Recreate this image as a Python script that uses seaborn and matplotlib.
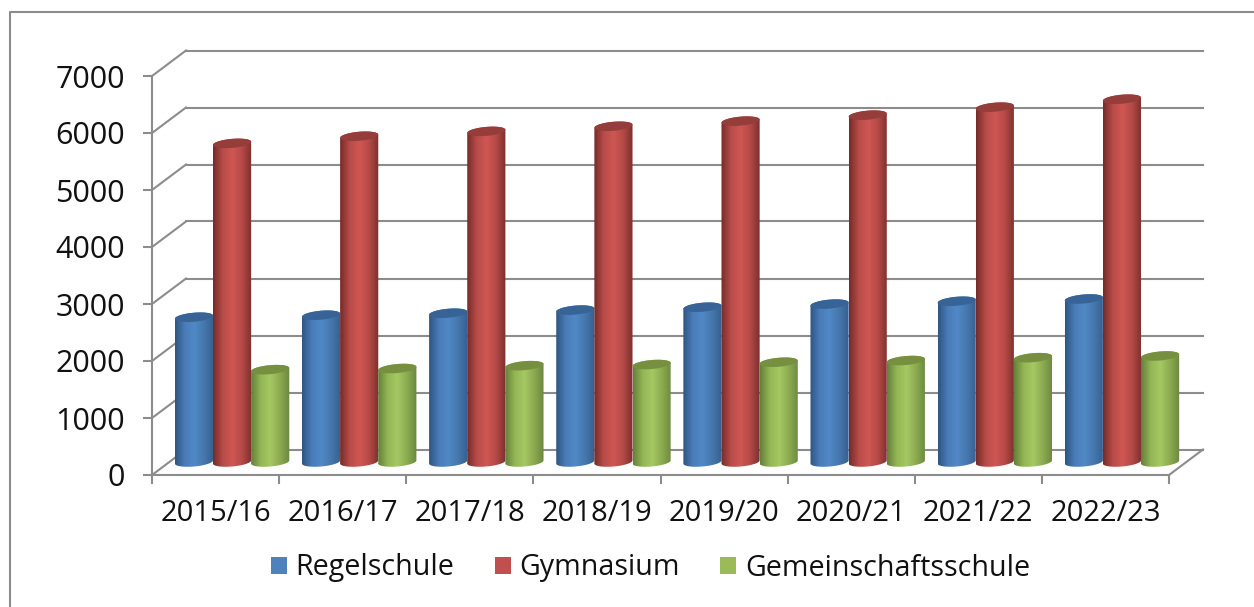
import numpy as np
import pandas as pd
import matplotlib
matplotlib.use('Agg')
import matplotlib.pyplot as plt
from matplotlib.colors import LinearSegmentedColormap
from matplotlib.lines import Line2D
from matplotlib.patches import PathPatch, Patch
from matplotlib.path import Path
import seaborn as sns

years = ['2015/16', '2016/17', '2017/18', '2018/19', '2019/20', '2020/21', '2021/22', '2022/23']
regelschule = [2540, 2575, 2610, 2665, 2715, 2770, 2820, 2860]
gymnasium = [5590, 5715, 5800, 5890, 5980, 6085, 6225, 6365]
gemeinschaft = [1620, 1640, 1690, 1710, 1750, 1780, 1830, 1860]

names = ['Regelschule', 'Gymnasium', 'Gemeinschaftsschule']
colors = ['#4f81bd', '#c0504d', '#9bbb59']
shades = {
    '#4f81bd': ['#2f5580', '#4a7cb8', '#5089c6', '#4577ad', '#375f8e'],
    '#c0504d': ['#752b29', '#b84c49', '#cf5753', '#b54a47', '#7a2f2d'],
    '#9bbb59': ['#63803a', '#94b655', '#a5c863', '#8cab50', '#6a8740'],
}
top_colors = {'#4f81bd': '#376397', '#c0504d': '#943d3a', '#9bbb59': '#769040'}

df = pd.DataFrame({'year': years, names[0]: regelschule, names[1]: gymnasium, names[2]: gemeinschaft})
long_df = df.melt(id_vars='year', var_name='schule', value_name='anzahl')

W, H = 1254, 607
grey = '#8c8c8c'
plt.rcParams['font.family'] = ['Open Sans', 'DejaVu Sans']

fig = plt.figure(figsize=(W / 100, H / 100), dpi=100)
ax = fig.add_axes([152 / W, (H - 475) / H, (1169 - 152) / W, (475 - 76) / H])

sns.barplot(data=long_df, x='year', y='anzahl', hue='schule', palette=colors,
            width=0.9, gap=0, legend=False, ax=ax)

ax.set_xlabel('')
ax.set_ylabel('')

# 3d depth of the box, in data units
px_y = 1000 / 57
depth_x = 34 / 127.1
depth_y = 25.5 * px_y
# bars stand in the middle of the floor
bar_dx = 16.5 / 127.1
bar_dy = 13 * px_y
ell = 4.5 * px_y
slant = 1.6 * px_y

ax.patch.set_visible(False)
for v in range(0, 8000, 1000):
    ax.plot([-0.5, -0.5 + depth_x], [v, v + depth_y], color=grey, lw=1.5, clip_on=False, zorder=1)
    ax.plot([-0.5 + depth_x, 7.5 + depth_x], [v + depth_y] * 2, color=grey, lw=1.5, clip_on=False, zorder=1)
ax.plot([7.5, 7.5 + depth_x], [0, depth_y], color=grey, lw=1.5, clip_on=False, zorder=1)

t_low = np.linspace(np.pi, 2 * np.pi, 40)
t_up = np.linspace(0, np.pi, 40)
t_all = np.linspace(0, 2 * np.pi, 80)

for i, bar in enumerate(ax.patches):
    h = bar.get_height()
    if h == 0:
        continue
    c = colors[i // 8]
    x0 = bar.get_x() + bar_dx
    w = bar.get_width()
    cx = x0 + w / 2
    bar.set_visible(False)
    xs = np.r_[cx + w / 2 * np.cos(t_low), cx + w / 2 * np.cos(t_up)]
    ys = np.r_[bar_dy + ell * np.sin(t_low) + slant * np.cos(t_low),
               bar_dy + h + ell * np.sin(t_up) + slant * np.cos(t_up)]
    body = PathPatch(Path(np.c_[xs, ys]), transform=ax.transData, fc='none', ec='none')
    ax.add_patch(body)
    cmap = LinearSegmentedColormap.from_list('cyl', shades[c])
    im = ax.imshow(np.linspace(0, 1, 128)[None, :], cmap=cmap, aspect='auto', origin='lower',
                   extent=(x0, x0 + w, bar_dy - 200, bar_dy + h + 200), zorder=3)
    im.set_clip_box(fig.bbox)
    im.set_clip_path(body)
    ax.fill(cx + w / 2 * np.cos(t_all), bar_dy + h + ell * np.sin(t_all) + slant * np.cos(t_all),
            color=top_colors[c], lw=0, zorder=3.5, clip_on=False)

ax.set_xlim(-0.5, 7.5)
ax.set_ylim(0, 7000)

sns.despine(ax=ax, top=True, right=True)
for s in ['left', 'bottom']:
    ax.spines[s].set_color(grey)
    ax.spines[s].set_linewidth(1.5)

ax.set_yticks(range(0, 8000, 1000))
ax.set_xticks(range(8))
ax.set_xticklabels(years)
ax.set_xticks(np.arange(-0.5, 8, 1), minor=True)
ax.tick_params(axis='y', labelsize=22, length=6.5, width=1.5, color=grey, pad=13, labelcolor='#111111')
ax.tick_params(axis='x', which='major', labelsize=21, length=0, pad=17, labelcolor='#111111')
ax.tick_params(axis='x', which='minor', length=6.5, width=1.5, color=grey)

handles = [Patch(fc=c, ec='none') for c in colors]
fig.legend(handles, names, ncol=3, frameon=False, fontsize=20.6, loc='center',
           bbox_to_anchor=(650.5 / W, (H - 568) / H), handlelength=0.56, handleheight=0.56,
           handletextpad=0.31, columnspacing=1.40, labelcolor='#111111')

# frame of the chart area, cut off by the page edge
fig.add_artist(Line2D([10 / W, 10 / W, 1], [0, (H - 12) / H, (H - 12) / H], color=grey, lw=1.5))

fig.savefig('out.png', dpi=100, facecolor='white')
